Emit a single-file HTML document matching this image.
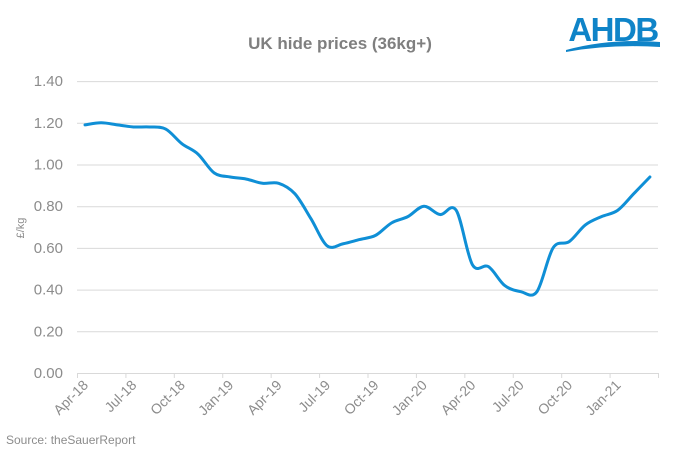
<!DOCTYPE html>
<html><head><meta charset="utf-8"><style>
html,body{margin:0;padding:0;background:#fff;}
svg{display:block;font-family:"Liberation Sans",sans-serif;}
</style></head><body>
<svg id="s" width="680" height="454" viewBox="0 0 680 454">
<text x="340" y="49" text-anchor="middle" font-size="17" font-weight="bold" fill="#7f7f7f">UK hide prices (36kg+)</text>
<text x="613" y="41" text-anchor="middle" font-size="33" font-weight="bold" fill="#0f84c8" letter-spacing="-1.5">AHDB</text>
<path d="M566 50 Q610 38 660 42 L660 47 Q610 44 566 52 Z" fill="#0f84c8"/>
<g id="grid" stroke="#d9d9d9" stroke-width="1"></g>
<g id="yl" font-size="15" fill="#8c8c8c" text-anchor="end"></g>
<g id="xl" font-size="14" fill="#8c8c8c" text-anchor="end"></g>
<text transform="translate(24,228) rotate(-90)" text-anchor="middle" font-size="11" fill="#8c8c8c">£/kg</text>
<text x="6" y="444" font-size="12" fill="#8c8c8c">Source:  theSauerReport</text>
<path id="ln" fill="none" stroke="#0f8fd6" stroke-width="3" stroke-linecap="round" stroke-linejoin="round"/>
</svg>
<script>
var ns="http://www.w3.org/2000/svg";
function el(t,a,p,txt){var e=document.createElementNS(ns,t);for(var k in a)e.setAttribute(k,a[k]);if(txt)e.textContent=txt;document.getElementById(p).appendChild(e);return e;}
var x0=77,x1=658,y0=373,yr=208.5;
for(var i=0;i<=7;i++){var y=y0-i*0.2*yr;el("line",{x1:x0,x2:x1,y1:y+0.5,y2:y+0.5},"grid");el("text",{x:63,y:y+5},"yl",(i*0.2).toFixed(2));}
var labs=["Apr-18","Jul-18","Oct-18","Jan-19","Apr-19","Jul-19","Oct-19","Jan-20","Apr-20","Jul-20","Oct-20","Jan-21"];
var qs=(x1-x0)/12;
for(var i=0;i<=12;i++){var x=x0+i*qs;el("line",{x1:x+0.5,x2:x+0.5,y1:y0,y2:y0+5},"grid");}
for(var i=0;i<12;i++){var x=x0+i*qs+12,yy=y0+13;el("text",{x:x,y:yy,transform:"rotate(-45 "+x+" "+yy+")"},"xl",labs[i]);}
var v=[1.19,1.20,1.19,1.18,1.18,1.17,1.10,1.05,0.96,0.94,0.93,0.91,0.91,0.86,0.74,0.61,0.62,0.64,0.66,0.72,0.75,0.80,0.76,0.78,0.52,0.51,0.42,0.39,0.39,0.60,0.63,0.71,0.75,0.78,0.86,0.94];
var p=v.map(function(d,i){return [85+i*16.14,y0-d*yr];});
var d="M"+p[0][0]+" "+p[0][1];
for(var i=0;i<p.length-1;i++){var a=p[i-1]||p[i],b=p[i],c=p[i+1],e=p[i+2]||c;
d+=" C"+(b[0]+(c[0]-a[0])/6)+" "+(b[1]+(c[1]-a[1])/6)+" "+(c[0]-(e[0]-b[0])/6)+" "+(c[1]-(e[1]-b[1])/6)+" "+c[0]+" "+c[1];}
document.getElementById("ln").setAttribute("d",d);
</script>
</body></html>
